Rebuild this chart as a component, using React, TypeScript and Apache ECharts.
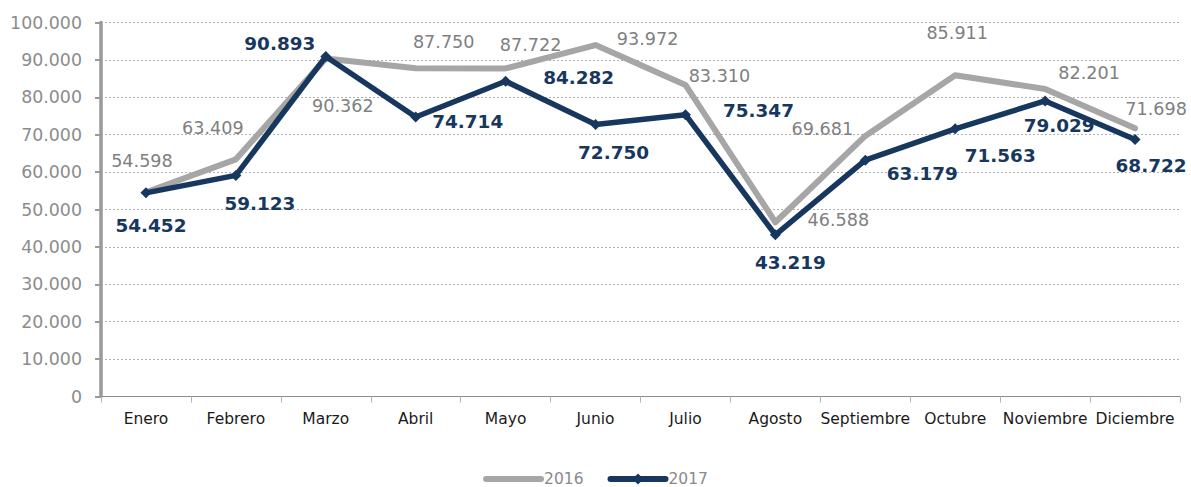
import React, { useEffect, useRef } from "react";
import * as echarts from "echarts";

const months = ["Enero", "Febrero", "Marzo", "Abril", "Mayo", "Junio", "Julio", "Agosto", "Septiembre", "Octubre", "Noviembre", "Diciembre"];
const values2016 = [54598, 63409, 90362, 87750, 87722, 93972, 83310, 46588, 69681, 85911, 82201, 71698];
const values2017 = [54452, 59123, 90893, 74714, 84282, 72750, 75347, 43219, 63179, 71563, 79029, 68722];
const yTicks = { min: 0, max: 100000, interval: 10000 };

// label placement (offset of label centre from its point, px)
const labelOffsets2016 = [[-4, -31], [-23, -31], [17, 47], [28, -26], [25, -23], [52, -6], [34, -9], [63, -2], [-43, -7], [2, -42], [44, -16], [21, -19]];
const labelOffsets2017 = [[5, 33], [24, 28], [-46, -13], [52, 4], [73, -4], [18, 28], [73, -4], [15, 28], [57, 13], [45, 27], [14, 25], [16, 26]];

const fmt = (v: number) => String(v).replace(/\B(?=(\d{3})+(?!\d))/g, ".");

const GRAY = "#A6A6A6";
const NAVY = "#17375E";
const FONT = "DejaVu Sans";

export default function App() {
  const ref = useRef<HTMLDivElement>(null);
  useEffect(() => {
    const chart = echarts.init(ref.current!, undefined, { renderer: "svg" });
    chart.setOption({
      animation: false,
      textStyle: { fontFamily: FONT },
      grid: { left: 101, right: 11, top: 22.5, bottom: 90.5, containLabel: false },
      legend: {
        data: ["2016", "2017"],
        left: "center",
        top: 471,
        padding: 0,
        itemWidth: 55,
        itemHeight: 14,
        itemGap: 24,
        lineStyle: { width: 6, cap: "round" },
        textStyle: { color: "#8a8a8a", fontSize: 15.5, fontFamily: FONT, padding: [0, 0, 0, -2] },
      },
      xAxis: {
        type: "category",
        data: months,
        boundaryGap: true,
        axisLine: { show: true, lineStyle: { color: "#8c8c8c", width: 1 } },
        axisTick: { show: true, length: 6, lineStyle: { color: "#b5b5b5", width: 1 } },
        axisLabel: { color: "#1a1a1a", fontSize: 15.5, fontFamily: FONT, margin: 14, interval: 0 },
        splitLine: { show: false },
      },
      yAxis: {
        type: "value",
        min: yTicks.min,
        max: yTicks.max,
        interval: yTicks.interval,
        axisLine: { show: true, lineStyle: { color: "#9a9a9a", width: 3.5 } },
        axisTick: { show: true, length: 6, lineStyle: { color: "#9a9a9a", width: 2 } },
        axisLabel: { color: "#8c8c8c", fontSize: 17.4, fontFamily: FONT, margin: 19, formatter: (v: number) => fmt(v) },
        splitLine: { show: true, lineStyle: { color: "#b0b0b0", width: 1, type: [2, 2] } },
      },
      series: [
        {
          name: "2016",
          type: "line",
          data: values2016.map((v, i) => ({ value: v, label: { offset: labelOffsets2016[i] } })),
          symbol: "circle",
          symbolSize: 2,
          itemStyle: { color: "transparent" },
          lineStyle: { color: GRAY, width: 6, cap: "round", join: "round" },
          label: {
            show: true,
            position: "inside",
            color: "#808080",
            fontSize: 17.6,
            fontFamily: FONT,
            align: "center",
            verticalAlign: "middle",
            formatter: (p: any) => fmt(p.value),
          },
          z: 2,
        },
        {
          name: "2017",
          type: "line",
          data: values2017.map((v, i) => ({ value: v, label: { offset: labelOffsets2017[i] } })),
          symbol: "diamond",
          symbolSize: 11,
          itemStyle: { color: NAVY },
          lineStyle: { color: NAVY, width: 5.5, cap: "round", join: "round" },
          label: {
            show: true,
            position: "inside",
            color: NAVY,
            fontSize: 18.4,
            fontWeight: "bold",
            fontFamily: FONT,
            align: "center",
            verticalAlign: "middle",
            formatter: (p: any) => fmt(p.value),
          },
          z: 3,
        },
      ],
    });
    return () => chart.dispose();
  }, []);
  return <div ref={ref} style={{ position: "absolute", left: 0, top: 0, width: 1191, height: 487 }} />;
}
